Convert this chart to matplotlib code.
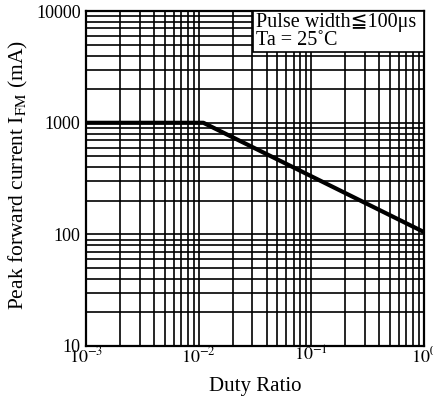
import numpy as np
import matplotlib.pyplot as plt
from matplotlib.ticker import LogLocator, NullFormatter
from matplotlib.patches import Rectangle

plt.rcParams['font.family'] = ['Liberation Serif', 'DejaVu Serif', 'DejaVu Sans']
plt.rcParams['mathtext.fontset'] = 'stix'

# Curve
duty = [1e-3, 1.1e-2, 1.0]
ifm = [1000, 1000, 105]

x_ticks = [1e-3, 1e-2, 1e-1, 1e0]
x_labels = [r'$10^{-3}$', r'$10^{-2}$', r'$10^{-1}$', r'$10^{0}$']
y_ticks = [10, 100, 1000, 10000]
y_labels = ['10', '100', '1000', '10000']

fig = plt.figure(figsize=(4.33, 4.0), dpi=100)
ax = fig.add_axes([0.199, 0.135, 0.78, 0.837])

ax.set_xscale('log')
ax.set_yscale('log')
ax.set_xlim(1e-3, 1)
ax.set_ylim(10, 10000)

ax.xaxis.set_minor_locator(LogLocator(base=10, subs=np.arange(2, 10)))
ax.yaxis.set_minor_locator(LogLocator(base=10, subs=np.arange(2, 10)))
ax.xaxis.set_minor_formatter(NullFormatter())
ax.yaxis.set_minor_formatter(NullFormatter())
ax.set_xticks(x_ticks)
ax.set_xticklabels(x_labels, fontsize=13)
ax.set_yticks(y_ticks)
ax.set_yticklabels(y_labels, fontsize=13)
ax.tick_params(axis='x', which='both', length=0, pad=0)
ax.tick_params(axis='y', which='both', length=0, pad=4)

ax.grid(which='both', color='black', linewidth=1.2)
for s in ax.spines.values():
    s.set_linewidth(1.6)

ax.plot(duty, ifm, color='black', linewidth=3, solid_capstyle='butt', zorder=3)

# condition box, top-right corner
ax.add_patch(Rectangle((0.494, 0.878), 0.506, 0.122, transform=ax.transAxes,
                       facecolor='white', edgecolor='black', linewidth=1.2, zorder=4))
ax.text(0.503, 0.995, 'Pulse width\u2266100\u03bcs\nTa = 25\u02daC', transform=ax.transAxes,
        ha='left', va='top', fontsize=14.5, linespacing=0.95, zorder=5)

ax.set_xlabel('Duty Ratio', fontsize=15, labelpad=8)
ax.set_ylabel(r'Peak forward current I$_\mathrm{FM}$ (mA)', fontsize=15.5)
ax.yaxis.set_label_coords(-0.165, 0.51)

fig.savefig('out.png', dpi=100)
